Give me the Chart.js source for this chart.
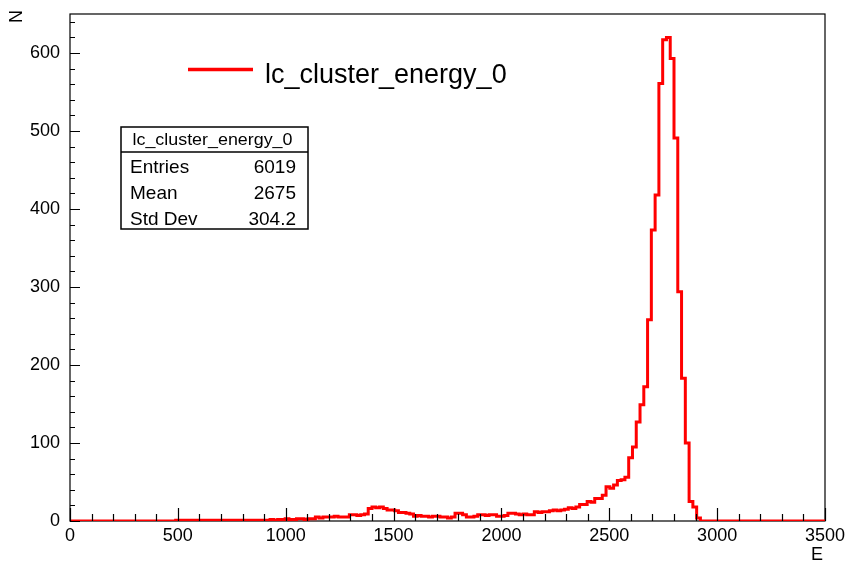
<!DOCTYPE html>
<html>
<head>
<meta charset="utf-8">
<script src="https://cdn.jsdelivr.net/npm/chart.js@4.4.0/dist/chart.umd.min.js"></script>
<style>
  html, body { margin: 0; padding: 0; background: #fff; }
  #wrap { width: 846px; height: 563px; position: relative; }
</style>
</head>
<body>
<div id="wrap"><canvas id="histChart"></canvas></div>
<script>
// ── DATA ────────────────────────────────────────────────────────────────
// 200 bins over [0, 3500], counts
const histName = 'lc_cluster_energy_0';
const xMin = 0;
const xMax = 3500;
const binWidth = 17.5;

const binCounts = [
    0, 0, 0, 0, 0, 0, 0, 0, 0, 0, 0, 0, 0, 0, 0, 0, 0, 0, 0, 0,
    0, 0, 0, 0, 0, 0, 0, 0, 0, 1, 1, 1, 1, 1, 1, 1, 1, 1, 1, 1,
    1, 1, 1, 1, 1, 1, 1, 1, 1, 1, 1, 1, 1, 1, 2, 1, 2, 2, 3, 2,
    2, 3, 3, 2, 3, 3, 5, 4, 5, 5, 5, 6, 5, 5, 5, 8, 8, 7, 8, 9,
    16, 18, 17, 18, 16, 14, 14, 13, 11, 11, 10, 9, 6, 7, 6, 6, 5, 6, 6, 5,
    5, 4, 5, 10, 10, 8, 5, 5, 6, 8, 8, 7, 8, 8, 6, 6, 7, 10, 10, 9,
    8, 9, 8, 8, 12, 11, 12, 12, 13, 14, 13, 14, 15, 17, 16, 18, 21, 21, 25, 24,
    29, 29, 33, 44, 42, 46, 52, 53, 56, 81, 95, 127, 149, 172, 258, 373, 418, 561, 617, 620,
    593, 491, 294, 183, 100, 25, 18, 4, 0, 0, 0, 0, 0, 0, 0, 0, 0, 0, 0, 0,
    0, 0, 0, 0, 0, 0, 0, 0, 0, 0, 0, 0, 0, 0, 0, 0, 0, 0, 0, 0
];

const xTickValues = [0, 500, 1000, 1500, 2000, 2500, 3000, 3500];
const yTickValues = [0, 100, 200, 300, 400, 500, 600];
const yMax = 650;
const xMinorStep = 100;
const yMinorStep = 20;

const statLabels = ['Entries', 'Mean', 'Std Dev'];
const statValues = ['6019', '2675', '304.2'];
const xTitle = 'E';
const yTitle = 'N';

const FONT = '"Liberation Sans", Arial, Helvetica, sans-serif';

// step points at the left edge of each bin, plus the closing edge
const histPoints = binCounts.map((c, i) => ({ x: xMin + i * binWidth, y: c }));
histPoints.push({ x: xMax, y: binCounts[binCounts.length - 1] });

// ── ROOT-STYLE DECORATIONS ──────────────────────────────────────────────
const rootFrame = {
    id: 'rootFrame',
    beforeDatasetsDraw(chart) {
        const { ctx, chartArea: a } = chart;
        ctx.save();
        ctx.strokeStyle = '#000';
        ctx.lineWidth = 1.2;
        ctx.strokeRect(a.left, a.top, a.right - a.left, a.bottom - a.top);
        ctx.restore();
    },
    afterDatasetsDraw(chart) {
        const { ctx, chartArea: a } = chart;
        const xs = chart.scales.x;
        const ys = chart.scales.y;
        ctx.save();
        ctx.strokeStyle = '#000';
        ctx.lineWidth = 1.2;

        // inward tick marks
        ctx.beginPath();
        for (let v = xMin; v <= xMax; v += xMinorStep) {
            const px = Math.round(xs.getPixelForValue(v)) + 0.5;
            const len = v % 500 === 0 ? 13 : 7;
            ctx.moveTo(px, a.bottom);
            ctx.lineTo(px, a.bottom - len);
        }
        for (let v = 0; v < yMax; v += yMinorStep) {
            const py = Math.round(ys.getPixelForValue(v)) + 0.5;
            const len = v % 100 === 0 ? 10 : 5;
            ctx.moveTo(a.left, py);
            ctx.lineTo(a.left + len, py);
        }
        ctx.stroke();

        // legend
        ctx.strokeStyle = '#ff0000';
        ctx.lineWidth = 3.5;
        ctx.beginPath();
        ctx.moveTo(188, 69.5);
        ctx.lineTo(253, 69.5);
        ctx.stroke();
        ctx.fillStyle = '#000';
        ctx.font = '27px ' + FONT;
        ctx.textAlign = 'left';
        ctx.textBaseline = 'alphabetic';
        ctx.fillText(histName, 265, 83);

        // stats box
        const bx = 121, by = 127, bw = 187, bh = 102;
        ctx.fillStyle = '#fff';
        ctx.fillRect(bx, by, bw, bh);
        ctx.strokeStyle = '#000';
        ctx.lineWidth = 1.5;
        ctx.strokeRect(bx, by, bw, bh);
        ctx.beginPath();
        ctx.moveTo(bx, 152);
        ctx.lineTo(bx + bw, 152);
        ctx.stroke();

        ctx.fillStyle = '#000';
        ctx.font = '16px ' + FONT;
        const tw = ctx.measureText(histName).width;
        ctx.save();
        ctx.translate(212.5, 144.5);
        ctx.scale(160 / tw, 1);
        ctx.textAlign = 'center';
        ctx.fillText(histName, 0, 0);
        ctx.restore();

        ctx.font = '19px ' + FONT;
        statLabels.forEach((lab, i) => {
            const y = 173 + i * 26;
            ctx.textAlign = 'left';
            ctx.fillText(lab, 130, y);
            ctx.textAlign = 'right';
            ctx.fillText(statValues[i], 296, y);
        });

        // axis titles
        ctx.font = '18px ' + FONT;
        ctx.textAlign = 'right';
        ctx.fillText(xTitle, a.right - 2, 560);
        ctx.save();
        ctx.translate(22, 10);
        ctx.rotate(-Math.PI / 2);
        ctx.textAlign = 'right';
        ctx.fillText(yTitle, 0, 0);
        ctx.restore();

        ctx.restore();
    }
};

// ── HISTOGRAM CHART ─────────────────────────────────────────────────────
function initHistChart() {
    const ctx = document.getElementById('histChart');
    if (!ctx) return;

    new Chart(ctx.getContext('2d'), {
        type: 'line',
        data: {
            datasets: [{
                label: histName,
                data: histPoints,
                stepped: 'after',
                borderColor: '#ff0000',
                borderWidth: 3,
                pointRadius: 0,
                fill: false,
                tension: 0
            }]
        },
        options: {
            responsive: true,
            maintainAspectRatio: false,
            animation: false,
            events: [],
            layout: { padding: { top: 14, right: 21, left: 0, bottom: 0 } },
            plugins: {
                legend: { display: false },
                tooltip: { enabled: false }
            },
            scales: {
                x: {
                    type: 'linear',
                    min: xMin,
                    max: xMax,
                    afterBuildTicks: s => { s.ticks = xTickValues.map(v => ({ value: v })); },
                    afterFit: s => {
                        s.height = 42;
                        s.paddingLeft = 0;
                        s.paddingRight = 0;
                    },
                    grid: { display: false, drawTicks: false },
                    border: { display: false },
                    ticks: {
                        padding: 4,
                        maxRotation: 0,
                        autoSkip: false,
                        color: '#000',
                        font: { family: FONT, size: 18 },
                        callback: v => String(v)
                    }
                },
                y: {
                    type: 'linear',
                    min: 0,
                    max: yMax,
                    afterBuildTicks: s => { s.ticks = yTickValues.map(v => ({ value: v })); },
                    afterFit: s => {
                        s.width = 70;
                        s.paddingTop = 0;
                        s.paddingBottom = 0;
                    },
                    grid: { display: false, drawTicks: false },
                    border: { display: false },
                    ticks: {
                        padding: 10,
                        autoSkip: false,
                        color: '#000',
                        font: { family: FONT, size: 18 },
                        callback: v => String(v)
                    }
                }
            }
        },
        plugins: [rootFrame]
    });
}

document.addEventListener('DOMContentLoaded', initHistChart);
</script>
</body>
</html>
